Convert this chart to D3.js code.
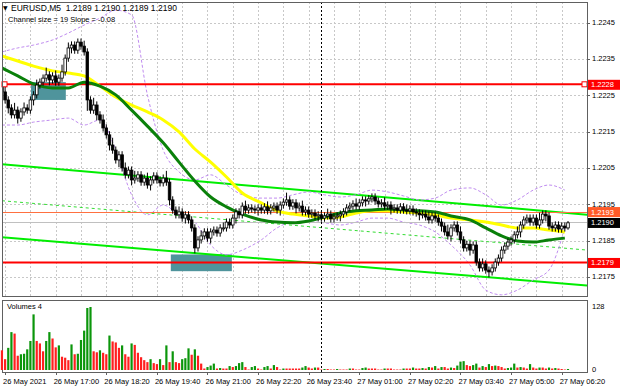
<!DOCTYPE html>
<html>
<head>
<meta charset="utf-8">
<script src="https://cdn.jsdelivr.net/npm/d3@7"></script>
<style>
  body { margin: 0; background: #fff; }
  svg text { font-family: "Liberation Sans", Arial, sans-serif; font-size: 7.5px; fill: #000; white-space: pre; }
</style>
</head>
<body>
<svg id="chart" width="620" height="388"></svg>
<script>
/*** DATA (prices in pips above 1.2200) ***/
var basePrice = 1.2200, pip = 0.0001;
var firstOpen = 28.2;

var closes = [
  25.9,23.7,21.5,19.6,20.9,18.7,20.4,21.5,20.9,23.7,
  25.1,27.8,28.6,29.7,30.6,29.2,30.3,28.6,29.7,31.4,
  35.2,38.0,38.8,37.4,39.6,38.5,36.9,23.7,20.9,22.3,
  19.6,18.2,16.0,14.1,11.3,9.9,7.2,8.6,5.0,3.1,
  4.4,1.7,2.2,3.1,1.1,2.2,0.3,1.7,2.8,1.7,
  0.9,2.2,1.1,-3.8,-6.6,-7.9,-7.1,-8.8,-7.9,-9.3,
  -11.5,-17.0,-14.8,-13.7,-12.6,-14.3,-12.6,-12.1,-12.9,-11.5,
  -11.5,-9.9,-10.7,-8.8,-7.1,-7.9,-5.5,-6.6,-6.0,-6.3,
  -6.6,-6.0,-6.6,-5.7,-6.8,-6.0,-5.5,-6.6,-5.2,-4.4,
  -3.8,-5.5,-4.6,-6.0,-5.5,-7.1,-6.6,-7.7,-7.4,-8.2,
  -7.9,-8.8,-8.2,-7.7,-9.0,-8.5,-8.2,-7.7,-7.1,-6.0,
  -5.5,-4.9,-5.5,-4.6,-3.8,-4.1,-3.5,-3.0,-4.1,-4.9,
  -4.6,-5.5,-5.2,-6.3,-6.0,-6.6,-5.7,-6.6,-6.8,-6.3,
  -7.1,-7.4,-7.9,-7.7,-8.5,-9.3,-8.2,-8.8,-9.9,-11.0,
  -12.6,-13.7,-11.5,-10.7,-12.6,-14.8,-17.0,-16.0,-17.6,-16.2,
  -20.9,-22.5,-21.4,-23.1,-23.6,-22.5,-20.9,-19.8,-17.6,-16.5,
  -15.4,-14.8,-13.4,-12.6,-10.7,-9.3,-8.8,-9.9,-8.8,-10.7,
  -9.3,-7.7,-8.2,-11.0,-11.5,-10.7,-11.8,-11.0,-11.5,-10.1
];

// wick lengths beyond the body, pips
var wickHi = [
  1,1.5,1,1,2,1,1,1.5,1,1, 1,1.5,1,1,2,1,1,1.5,1,2,
  1,1.5,1,1,1,1,1.5,1,1,2, 1,1,1.5,1,1,2,1,1,1,1.5,
  1,1,2,1,1,1,1.5,1,1,1, 1,1,2,1,1,1,1.5,1,1,1,
  1,1,1,1.5,1,1,1,1,1,1, 1.5,1,1,1,1,1,1,1.5,1,1,
  1,1,1,1,1.5,1,1,1,1,1, 2,1,1,1,1,1.5,1,1,1,1,
  1,1,1,1.5,1,1,1,1,1,1, 1,1,1.5,1,1,1,1,1,1,1,
  1,1.5,1,1,1,1,1,1,1.5,1, 1,1,1,1,1,1.5,1,1,1,1,
  1,2,1,1,1,1.5,1,1,1,1, 1,1,1.5,1,1,1,1,1,1,1,
  1,1,1,1.5,1,1,1,1,1,1, 2,1,1,1,1,1,1,1,1,0.5
];
var wickLo = [
  1,1,1.5,1,1,1.5,1,1,1,1, 1.5,1,1,1,1,1.5,1,1,1,1,
  1,1,1.5,1,1,1,1,3,1,1, 1.5,1,1,1,1.5,1,1,2,1,1,
  1,1.5,1,1,1,1,1,1.5,1,1, 1,1,1,1.5,1,1,1,1,1.5,1,
  1,1.5,1,1,1,1,1.5,1,1,1, 1,1,1,1,1.5,1,1,1,1,1,
  1,1.5,1,1,1,1,1,1,1.5,1, 1,1,1,1.5,1,1,1,1,1,1,
  1.5,1,1,1,1,1,1,1.5,1,1, 1,1,1,1,1,1.5,1,1,1,1,
  1,1,1,1.5,1,1,1,1,1,1, 1,1,1.5,1,1,1,1,1,1,1.5,
  1,1,1.5,1,1,1,1,1,1.5,1, 1,1,1,1,1.5,1,1,1,1,1,
  1,1,1,1,1.5,1,1,1,1,1, 1,1,1.5,1,1,1,1,1,1,0.5
];

var volumes = [
  40,22,45,77,74,29,32,33,42,59,
  113,59,54,38,59,77,64,46,50,27,
  25,20,52,32,33,61,80,126,128,38,
  36,40,35,32,70,58,56,45,50,32,
  27,54,51,35,26,20,16,22,14,12,
  22,10,50,16,38,16,14,22,24,44,
  31,42,29,13,3,6,9,13,3,4,
  3,3,8,6,8,14,16,6,1,6,
  8,3,1,6,8,3,10,6,1,3,
  3,3,3,3,3,5,8,5,3,5,
  5,1,2,2,1,1,2,1,1,1,
  3,3,1,1,4,5,3,3,3,1,
  1,3,3,3,1,1,1,3,3,3,
  5,3,3,4,3,6,5,8,3,6,
  6,3,5,4,9,17,18,10,8,10,
  13,5,8,6,12,8,9,8,6,3,
  4,5,13,5,6,5,3,12,5,3,
  5,5,3,5,3,4,3,2,1,2
];

// indicator samples (bar index -> pips)
var maBars   = [0,5,10,16,21,26,31,36,41,46,51,56,61,66,71,76,82,87,92,97,102,107,112,117,122,127,132,137,142,148,153,158,163,168,173,178];
var maYellow = [35.8,34.4,33.0,31.7,31.1,30.3,27.5,24.5,22.3,20.4,18.2,14.9,10.2,6.6,2.5,-1.9,-4.6,-6.8,-7.7,-8.2,-8.8,-8.5,-7.4,-6.8,-6.8,-7.1,-7.4,-7.9,-8.8,-9.3,-9.9,-10.7,-11.5,-11.5,-12.1,-12.6];
var maGreen  = [32.5,30.3,28.1,27.0,27.0,28.6,27.5,25.1,20.9,16.5,11.9,6.6,1.4,-3.0,-5.7,-7.7,-9.3,-9.9,-10.1,-9.6,-8.5,-7.4,-6.8,-6.6,-6.3,-6.6,-6.8,-7.1,-8.2,-9.3,-11.5,-13.7,-15.1,-15.4,-14.8,-14.3];
var bandUpper = [36.9,38.0,38.8,40.2,42.1,44.3,46.2,48.4,47.1,25.1,9.9,3.9,1.7,3.1,0.3,-2.4,-3.3,-3.3,-2.4,-1.6,-2.4,-3.0,-2.4,-1.1,-1.6,-2.7,-3.8,-3.3,-1.1,-0.5,-2.4,-5.2,-3.8,-1.1,0.3,-1.1];
var bandLower = [16.8,16.8,17.6,18.2,18.7,16.8,18.2,9.9,-2.4,-7.9,-5.2,-7.9,-9.9,-16.2,-18.9,-17.6,-14.8,-11.5,-9.9,-9.9,-10.1,-10.7,-9.9,-8.8,-8.8,-9.9,-10.7,-12.6,-16.2,-21.7,-28.6,-29.9,-28.6,-25.8,-23.1,-11.5];

// regression channel: value at first and last bar
var channelBars  = [0, 179];
var channelUpper = [6.0, -7.4];
var channelLower = [-14.05, -26.9];

// horizontal levels
var redLevels = [1.2228, 1.2179];
var orangeLevel = 1.2193;
var bidLevel = 1.2190;

// shaded zones: bar range and price range
var zones = [
  {from: 9.2, to: 20.2, hi: 28.6, lo: 23.7},
  {from: 53.4, to: 72.7, hi: -18.8, lo: -23.4}
];

var priceTicks = [1.2245, 1.2235, 1.2225, 1.2215, 1.2205, 1.2195, 1.2185, 1.2175];
var timeTickBars = [1, 17, 33, 49, 65, 81, 97, 113, 129, 145, 161, 177];
var timeLabels = ["26 May 2021", "26 May 17:00", "26 May 18:20", "26 May 19:40", "26 May 21:00", "26 May 22:20",
                  "26 May 23:40", "27 May 01:00", "27 May 02:20", "27 May 03:40", "27 May 05:00", "27 May 06:20"];
var daySeparatorBar = 101;
var volumeTicks = [128, 0];
var headerText = "EURUSD,M5  1.2189 1.2190 1.2189 1.2190";
var channelText = "Channel size = 19 Slope = -0.08";

/*** LAYOUT ***/
var toPrice = v => basePrice + v * pip;
var main = {left: 2, right: 587, top: 2, bottom: 296},
    vol = {top: 300, bottom: 372};

var svg = d3.select("#chart");
var x = d3.scaleLinear().domain([0, 179]).range([1.94, 568]);
var y = d3.scaleLinear().domain([1.2175, 1.2245]).range([277, 22.5]);
var yv = d3.scaleLinear().domain([0, 128]).range([370, 307]);

var candles = closes.map((c, i) => {
  var o = i ? closes[i - 1] : firstOpen;
  return {
    i: i,
    o: toPrice(o), c: toPrice(c),
    h: toPrice(Math.max(o, c) + wickHi[i]),
    l: toPrice(Math.min(o, c) - wickLo[i])
  };
});

svg.append("defs").append("clipPath").attr("id", "clipMain")
  .append("rect").attr("x", main.left).attr("y", main.top)
  .attr("width", main.right - main.left).attr("height", main.bottom - main.top);

var g = svg.append("g").attr("clip-path", "url(#clipMain)");

// grid
var gridBars = d3.range(1, 180, 8);
g.append("g").selectAll("line").data(gridBars).enter().append("line")
  .attr("x1", d => Math.round(x(d)) + 0.5).attr("x2", d => Math.round(x(d)) + 0.5)
  .attr("y1", main.top).attr("y2", main.bottom)
  .attr("stroke", "#c8c8c8").attr("stroke-dasharray", "2,2");
g.append("g").selectAll("line").data(priceTicks).enter().append("line")
  .attr("x1", main.left).attr("x2", main.right)
  .attr("y1", d => Math.round(y(d)) + 0.5).attr("y2", d => Math.round(y(d)) + 0.5)
  .attr("stroke", "#c8c8c8").attr("stroke-dasharray", "2,2");

// zones
g.append("g").selectAll("rect").data(zones).enter().append("rect")
  .attr("x", d => x(d.from)).attr("width", d => x(d.to) - x(d.from))
  .attr("y", d => y(toPrice(d.hi))).attr("height", d => y(toPrice(d.lo)) - y(toPrice(d.hi)))
  .attr("fill", "#4f949c");

// day separator
svg.append("line")
  .attr("x1", Math.round(x(daySeparatorBar)) + 0.5).attr("x2", Math.round(x(daySeparatorBar)) + 0.5)
  .attr("y1", main.top).attr("y2", vol.bottom)
  .attr("stroke", "#000").attr("stroke-dasharray", "2,2");

// channel lines, extended to the frame
var xl = x.invert(main.left), xr = x.invert(main.right);
function chanAt(vals, b) {
  var t = (b - channelBars[0]) / (channelBars[1] - channelBars[0]);
  return toPrice(vals[0] + (vals[1] - vals[0]) * t);
}
var channelMid = channelUpper.map((v, k) => (v + channelLower[k]) / 2);
[[channelUpper, "#00ee00", 2, null], [channelLower, "#00ee00", 2, null], [channelMid, "#33dd33", 1, "3,3"]]
  .forEach(c => {
    g.append("line")
      .attr("x1", main.left).attr("x2", main.right)
      .attr("y1", y(chanAt(c[0], xl))).attr("y2", y(chanAt(c[0], xr)))
      .attr("stroke", c[1]).attr("stroke-width", c[2])
      .attr("stroke-dasharray", c[3]);
  });

// bollinger style bands
var line = vals => d3.line().curve(d3.curveMonotoneX)
  .x((d, k) => x(maBars[k])).y(d => y(toPrice(d)))(vals);
[bandUpper, bandLower].forEach(b => {
  g.append("path").attr("d", line(b)).attr("fill", "none")
    .attr("stroke", "#c08cf0").attr("stroke-width", 1).attr("stroke-dasharray", "3,2");
});

// horizontal levels
g.append("line").attr("x1", main.left).attr("x2", main.right)
  .attr("y1", Math.round(y(bidLevel)) + 0.5).attr("y2", Math.round(y(bidLevel)) + 0.5)
  .attr("stroke", "#c0c0c0");
g.append("line").attr("x1", main.left).attr("x2", main.right)
  .attr("y1", Math.round(y(orangeLevel)) + 0.5).attr("y2", Math.round(y(orangeLevel)) + 0.5)
  .attr("stroke", "#ff7040");
redLevels.forEach(p => {
  g.append("line").attr("x1", main.left).attr("x2", main.right)
    .attr("y1", y(p)).attr("y2", y(p))
    .attr("stroke", "#ff0000").attr("stroke-width", 2);
});
svg.append("g").selectAll("rect").data([main.left + 2, main.right - 3]).enter().append("rect")
  .attr("x", d => d - 2).attr("y", y(redLevels[0]) - 2.5).attr("width", 5).attr("height", 5)
  .attr("fill", "#fff").attr("stroke", "#ff0000").attr("stroke-width", 1);

// moving averages
g.append("path").attr("d", line(maYellow)).attr("fill", "none")
  .attr("stroke", "#ffff00").attr("stroke-width", 3);
g.append("path").attr("d", line(maGreen)).attr("fill", "none")
  .attr("stroke", "#0a800a").attr("stroke-width", 3);

// candles
var cg = g.append("g").selectAll("g").data(candles).enter().append("g");
cg.append("line")
  .attr("x1", d => x(d.i)).attr("x2", d => x(d.i))
  .attr("y1", d => y(d.h)).attr("y2", d => y(d.l))
  .attr("stroke", "#000").attr("stroke-width", 1);
cg.append("rect")
  .attr("x", d => x(d.i) - 1.3).attr("width", 2.6)
  .attr("y", d => y(Math.max(d.o, d.c)))
  .attr("height", d => Math.max(1, Math.abs(y(d.o) - y(d.c))))
  .attr("fill", d => d.c >= d.o ? "#fff" : "#000")
  .attr("stroke", "#000").attr("stroke-width", 0.8);

// frames
svg.append("rect").attr("x", main.left + 0.5).attr("y", main.top + 0.5)
  .attr("width", main.right - main.left).attr("height", main.bottom - main.top)
  .attr("fill", "none").attr("stroke", "#606060");
svg.append("rect").attr("x", main.left + 0.5).attr("y", vol.top + 0.5)
  .attr("width", main.right - main.left).attr("height", vol.bottom - vol.top)
  .attr("fill", "none").attr("stroke", "#606060");

// price axis
var pa = svg.append("g");
pa.selectAll("line").data(priceTicks).enter().append("line")
  .attr("x1", main.right).attr("x2", main.right + 3)
  .attr("y1", d => Math.round(y(d)) + 0.5).attr("y2", d => Math.round(y(d)) + 0.5)
  .attr("stroke", "#606060");
pa.selectAll("text").data(priceTicks).enter().append("text")
  .attr("x", main.right + 5).attr("y", d => y(d) + 2.3)
  .text(d => d.toFixed(4));

// highlighted price labels
var tags = [
  {p: redLevels[0], fill: "#ff0000"},
  {p: orangeLevel, fill: "#ff5a28"},
  {p: bidLevel, fill: "#000000"},
  {p: redLevels[1], fill: "#ff0000"}
];
var tg = svg.append("g").selectAll("g").data(tags).enter().append("g");
tg.append("rect").attr("x", main.right + 1).attr("width", 32)
  .attr("y", d => y(d.p) - 4.5).attr("height", 10).attr("fill", d => d.fill);
tg.append("text").attr("x", main.right + 4).attr("y", d => y(d.p) + 3)
  .style("fill", "#fff").text(d => d.p.toFixed(4));

// volumes
var vg = svg.append("g");
vg.selectAll("rect").data(volumes).enter().append("rect")
  .attr("x", (d, i) => x(i) - 1.1).attr("width", 2.2)
  .attr("y", d => yv(d)).attr("height", d => yv(0) - yv(d))
  .attr("fill", (d, i) => i > 0 && d > volumes[i - 1] ? "#0b960b" : "#ff1f1f");
vg.append("text").attr("x", 7).attr("y", 309).text("Volumes 4");
vg.selectAll(".vt").data(volumeTicks).enter().append("text")
  .attr("x", main.right + 5).attr("y", d => yv(d) + 1.5)
  .text(d => d);

// time axis
var ta = svg.append("g");
ta.selectAll("line").data(timeTickBars).enter().append("line")
  .attr("x1", d => Math.round(x(d)) + 0.5).attr("x2", d => Math.round(x(d)) + 0.5)
  .attr("y1", vol.bottom).attr("y2", vol.bottom + 3)
  .attr("stroke", "#606060");
ta.selectAll("text").data(timeTickBars).enter().append("text")
  .attr("x", d => x(d) - 2).attr("y", 384)
  .text((d, k) => timeLabels[k]);

// header
svg.append("text").attr("x", 3).attr("y", 9.5)
  .style("font-family", "DejaVu Sans").style("font-size", "6px").text("\u25BC");
svg.append("text").attr("x", 11).attr("y", 10.5).style("font-size", "8.5px").text(headerText);
svg.append("text").attr("x", 8).attr("y", 21.5).text(channelText);
</script>
</body>
</html>
